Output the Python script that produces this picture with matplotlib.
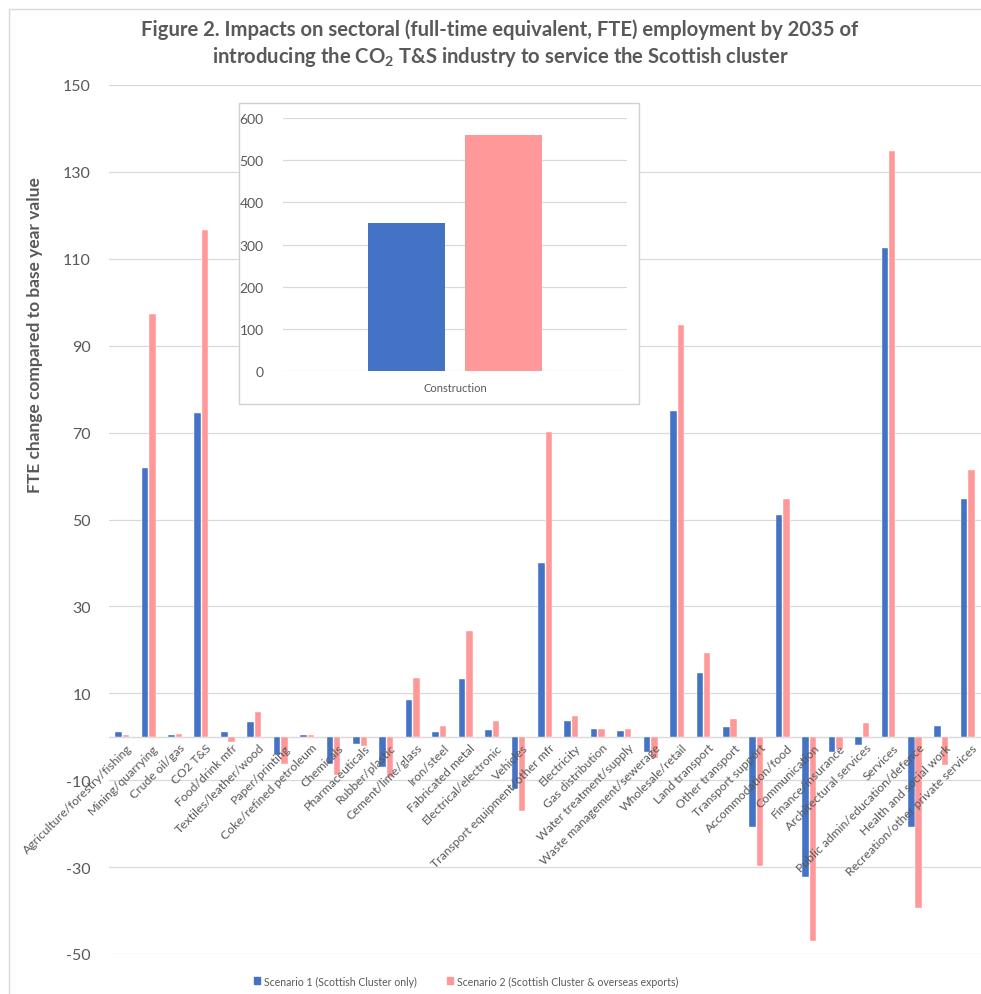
import numpy as np
import matplotlib
matplotlib.use('Agg')
import matplotlib.pyplot as plt
from matplotlib.patches import Patch, Rectangle
from matplotlib import transforms

plt.rcParams['font.family'] = ['Lato', 'DejaVu Sans']
plt.rcParams['axes.unicode_minus'] = False
plt.rcParams['mathtext.fontset'] = 'custom'
plt.rcParams['mathtext.rm'] = 'Lato'
plt.rcParams['mathtext.bf'] = 'Lato:bold'

# sector FTE changes by 2035 (construction shown separately in the inset)
sectors = ['Agriculture/forestry/fishing', 'Mining/quarrying', 'Crude oil/gas', 'CO2 T&S',
           'Food/drink mfr', 'Textiles/leather/wood', 'Paper/printing', 'Coke/refined petroleum',
           'Chemicals', 'Pharmaceuticals', 'Rubber/plastic', 'Cement/lime/glass', 'Iron/steel',
           'Fabricated metal', 'Electrical/electronic', 'Vehicles', 'Transport equipment/other mfr',
           'Electricity', 'Gas distribution', 'Water treatment/supply', 'Waste management/sewerage',
           'Wholesale/retail', 'Land transport', 'Other transport', 'Transport support',
           'Accommodation/food', 'Communication', 'Finance/insurance', 'Architectural services',
           'Services', 'Public admin/education/defence', 'Health and social work',
           'Recreation/other private services']

scenario1 = [1.2, 61.9, 0.35, 74.6, 1.2, 3.3, -4.2, 0.35, -6.3, -1.6, -7.0, 8.4, 1.0,
             13.2, 1.6, -12.1, 39.9, 3.7, 1.7, 1.4, -3.5, 75.0, 14.7, 2.3, -20.7,
             51.0, -32.3, -3.4, -1.9, 112.6, -20.7, 2.4, 54.7]
scenario2 = [0.3, 97.3, 0.6, 116.7, -1.2, 5.6, -6.2, 0.35, -8.8, -2.2, -9.2, 13.5, 2.4,
             24.3, 3.7, -17.1, 70.1, 4.7, 1.8, 1.7, -4.9, 94.7, 19.3, 4.0, -29.8,
             54.7, -47.0, -2.8, 3.1, 134.8, -39.5, -6.6, 61.4]

inset_category = ['Construction']
inset_s1 = [351]
inset_s2 = [559]

series_names = ['Scenario 1 (Scottish Cluster only)',
                'Scenario 2 (Scottish Cluster & overseas exports)']

blue = '#4472C4'
pink = '#FF9999'
txt = '#595959'
grid = '#D9D9D9'

W, H = 981, 995
fig = plt.figure(figsize=(W / 100, H / 100), dpi=100)

def box(x0, y0, x1, y1):
    # pixel box (top-left origin) -> figure fraction rect
    return [x0 / W, 1 - y1 / H, (x1 - x0) / W, (y1 - y0) / H]

# outer chart border
fig.patches.append(Rectangle((9 / W, -0.1), 1.2, 1 - 10 / H + 0.1, transform=fig.transFigure,
                             fill=False, edgecolor=grid, lw=1))

ax = fig.add_axes(box(109, 86, 981, 955))
x = np.arange(len(sectors))
ax.bar(x - 0.14, scenario1, width=0.25, color=blue, edgecolor='white', lw=0.3, zorder=2)
ax.bar(x + 0.14, scenario2, width=0.24, color=pink, edgecolor='white', lw=0.3, zorder=2)
ax.set_xlim(-0.5, len(sectors) - 0.5)
ax.set_ylim(-50, 150)
ax.set_yticks(np.arange(-50, 151, 20))
ax.yaxis.grid(True, color=grid, lw=0.9)
ax.set_axisbelow(True)
ax.axhline(0, color=grid, lw=1.0, zorder=1)
for s in ax.spines.values():
    s.set_visible(False)
ax.set_xticks([])
ax.tick_params(axis='y', length=0, pad=13, labelsize=11.5, labelcolor=txt)

lab_tr = transforms.offset_copy(ax.transData, fig=fig, x=4, y=-5, units='dots')
for xi, name in zip(x, sectors):
    ax.text(xi, 0, name, transform=lab_tr, rotation=45, rotation_mode='anchor',
            ha='right', va='top', fontsize=8.8, color=txt, zorder=5)

fig.text(35 / W, 1 - 335 / H, 'FTE change compared to base year value', rotation=90,
         ha='center', va='center', fontsize=12.5, fontweight='bold', color=txt)

fig.text(500 / W, 1 - 30 / H,
         'Figure 2. Impacts on sectoral (full-time equivalent, FTE) employment by 2035 of',
         ha='center', va='center', fontsize=14.6, fontweight='bold', color=txt)
fig.text(500 / W, 1 - 57 / H,
         r'introducing the CO$_\mathbf{2}$ T&S industry to service the Scottish cluster',
         ha='center', va='center', fontsize=14.6, fontweight='bold', color=txt)

# construction inset
fig.patches.append(Rectangle((239 / W, 1 - 405 / H), 400 / W, 301 / H,
                             transform=fig.transFigure, facecolor='white',
                             edgecolor='#D0D0D0', lw=1, zorder=3))
iax = fig.add_axes(box(283, 119, 627, 372.3), zorder=4)
iax.patch.set_alpha(0)
ix = np.arange(len(inset_category))
iax.bar(ix - 0.141, inset_s1, width=0.224, color=blue, zorder=2)
iax.bar(ix + 0.141, inset_s2, width=0.224, color=pink, zorder=2)
iax.set_xlim(-0.5, 0.5)
iax.set_ylim(0, 600)
iax.set_yticks(np.arange(0, 601, 100))
iax.yaxis.grid(True, color=grid, lw=0.9)
iax.set_axisbelow(True)
for s in iax.spines.values():
    s.set_visible(False)
iax.set_xticks(ix)
iax.set_xticklabels(inset_category)
iax.tick_params(axis='y', length=0, pad=14, labelsize=10, labelcolor=txt)
iax.tick_params(axis='x', length=0, pad=8, labelsize=8, labelcolor=txt)

handles = [Patch(color=blue), Patch(color=pink)]
fig.legend(handles, series_names, loc='center', bbox_to_anchor=(466 / W, 1 - 982 / H),
           ncol=2, frameon=False, fontsize=7.6, handlelength=0.6, handleheight=0.6,
           handletextpad=0.4, columnspacing=2.8, labelcolor=txt)

fig.savefig('out.png', dpi=100)
